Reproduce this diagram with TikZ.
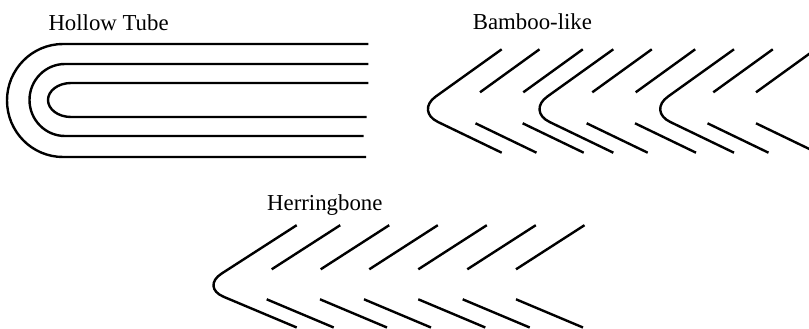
\documentclass[tikz,border=0pt]{standalone}
\usepackage{fontspec}
\setmainfont{Liberation Serif}
\begin{document}
\begin{tikzpicture}[x=1pt,y=-1pt,
  stroke/.style={line width=2.4pt,black},
  chev/.style={stroke,rounded corners=25pt},
  lbl/.style={anchor=base west,inner sep=0pt,font=\fontsize{22.8pt}{26pt}\selectfont}]
\useasboundingbox (0,0) rectangle (809,329);
\clip (0,0) rectangle (809,329);
% labels
\node[lbl] (tube) at (48.3,30.7) {Hollow Tube};
\node[lbl] (bamboo) at (472.7,30) {Bamboo-like};
\node[lbl] (herring) at (267,210.5) {Herringbone};
% hollow tube
\draw[stroke] (368.3,44) -- (63,44) arc[start angle=270,end angle=90,x radius=56,y radius=56.5] -- (366,157);
\draw[stroke] (368.3,64) -- (65,64) arc[start angle=270,end angle=90,x radius=35.5,y radius=36] -- (363.5,136);
\draw[stroke] (368.3,83) -- (71,83) arc[start angle=270,end angle=90,x radius=23,y radius=17] -- (366.7,117);
% bamboo-like
\foreach \t in {501.7,613.3,734}
  \draw[chev] (\t,49.3) -- (\t-86.3,111.1) -- (\t,152.7);
\foreach \s in {480,523.3,592.3,635.7,713.3,756}
  \draw[stroke] (\s,92.3) -- (\s+59.5,49.3);
\foreach \s in {475.5,522.7,586.7,635,707.5,756}
  \draw[stroke] (\s,123.3) -- (\s+61,152.7);
% herringbone
\draw[chev] (296.7,225.2) -- (200.6,287.1) -- (296.7,327.5);
\foreach \s in {271.7,320.7,369.3,418.3,467.3,516}
  \draw[stroke] (\s,269.3) -- (\s+68.5,225.2);
\foreach \s in {266.7,320,364,418.3,462.7,516}
  \draw[stroke] (\s,299.3) -- (\s+67,327.5);
\end{tikzpicture}
\end{document}
